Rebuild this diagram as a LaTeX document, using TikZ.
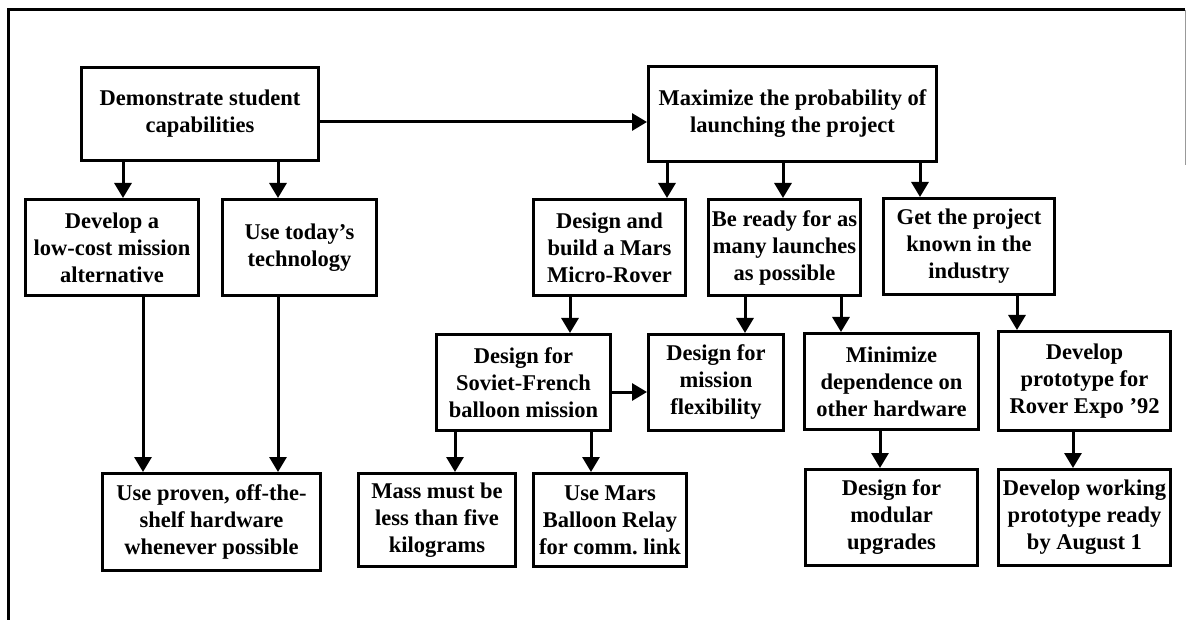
\documentclass[tikz,border=0pt]{standalone}
\usepackage{fontspec}
\setmainfont{Liberation Serif}
\usetikzlibrary{arrows.meta}

\begin{document}
\begin{tikzpicture}[x=1pt,y=-1pt,
  goal/.style={draw, line width=3pt, inner sep=0pt, align=center,
    font=\bfseries\fontsize{22.5}{27}\selectfont,
    minimum height=96pt},
  link/.style={line width=3pt, -{Triangle[width=17pt,length=15pt]}},
  frame/.style={line width=3pt},
]
\useasboundingbox (0,0) rectangle (1186,620);

% page frame
\draw[frame] (8,620) -- (8,10) -- (1185,10);
\draw[line width=1pt, black!40] (1185,10) -- (1185,165);

% top-level goals
\node[goal, minimum width=237pt, minimum height=93pt] (demo) at (200,114)
  {Demonstrate student\\capabilities};
\node[goal, minimum width=288pt, minimum height=95pt] (max) at (792.5,114)
  {Maximize the probability of\\launching the project};

% second level
\node[goal, minimum width=173pt] (dev) at (112,247.5)
  {Develop a\\low-cost mission\\alternative};
\node[goal, minimum width=154pt] (today) at (299.5,247.5)
  {Use today's\\technology};
\node[goal, minimum width=152pt] (build) at (609.5,247.5)
  {Design and\\build a Mars\\Micro-Rover};
\node[goal, minimum width=152pt] (ready) at (784.5,247.5)
  {Be ready for as\\many launches\\as possible};
\node[goal, minimum width=171pt] (known) at (969,246.5)
  {Get the project\\known in the\\industry};

% third level
\node[goal, minimum width=174pt] (soviet) at (523.5,382.5)
  {Design for\\Soviet-French\\balloon mission};
\node[goal, minimum width=135pt] (flex) at (716,382.5)
  {Design for\\mission\\flexibility};
\node[goal, minimum width=174pt] (minim) at (891.5,381.5)
  {Minimize\\dependence on\\other hardware};
\node[goal, minimum width=172pt, minimum height=99pt] (proto) at (1084.5,381)
  {Develop\\prototype for\\Rover Expo '92};

% bottom level
\node[goal, minimum width=218pt, minimum height=97pt] (proven) at (211.5,522)
  {Use proven, off-the-\\shelf hardware\\whenever possible};
\node[goal, minimum width=157pt, minimum height=93pt] (mass) at (437,520)
  {Mass must be\\less than five\\kilograms};
\node[goal, minimum width=153pt, minimum height=93pt] (relay) at (610,520)
  {Use Mars\\Balloon Relay\\for comm.\ link};
\node[goal, minimum width=172pt] (modular) at (891.5,517.5)
  {Design for\\modular\\upgrades};
\node[goal, minimum width=172pt] (working) at (1084.5,517.5)
  {Develop working\\prototype ready\\by August 1};

% connectors
\draw[link] (demo.east |- 0,122) -- (max.west |- 0,122);
\draw[link] (demo.south -| 123,0) -- (dev.north -| 123,0);
\draw[link] (demo.south -| 278,0) -- (today.north -| 278,0);
\draw[link] (max.south -| 667,0) -- (build.north -| 667,0);
\draw[link] (max.south -| 783,0) -- (ready.north -| 783,0);
\draw[link] (max.south -| 920,0) -- (known.north -| 920,0);
\draw[link] (build.south -| 570,0) -- (soviet.north -| 570,0);
\draw[link] (ready.south -| 745,0) -- (flex.north -| 745,0);
\draw[link] (ready.south -| 841,0) -- (minim.north -| 841,0);
\draw[link] (known.south -| 1017,0) -- (proto.north -| 1017,0);
\draw[link] (soviet.east |- 0,392) -- (flex.west |- 0,392);
\draw[link] (soviet.south -| 455,0) -- (mass.north -| 455,0);
\draw[link] (soviet.south -| 591,0) -- (relay.north -| 591,0);
\draw[link] (dev.south -| 143,0) -- (proven.north -| 143,0);
\draw[link] (today.south -| 278,0) -- (proven.north -| 278,0);
\draw[link] (minim.south -| 880,0) -- (modular.north -| 880,0);
\draw[link] (proto.south -| 1073,0) -- (working.north -| 1073,0);
\end{tikzpicture}
\end{document}
